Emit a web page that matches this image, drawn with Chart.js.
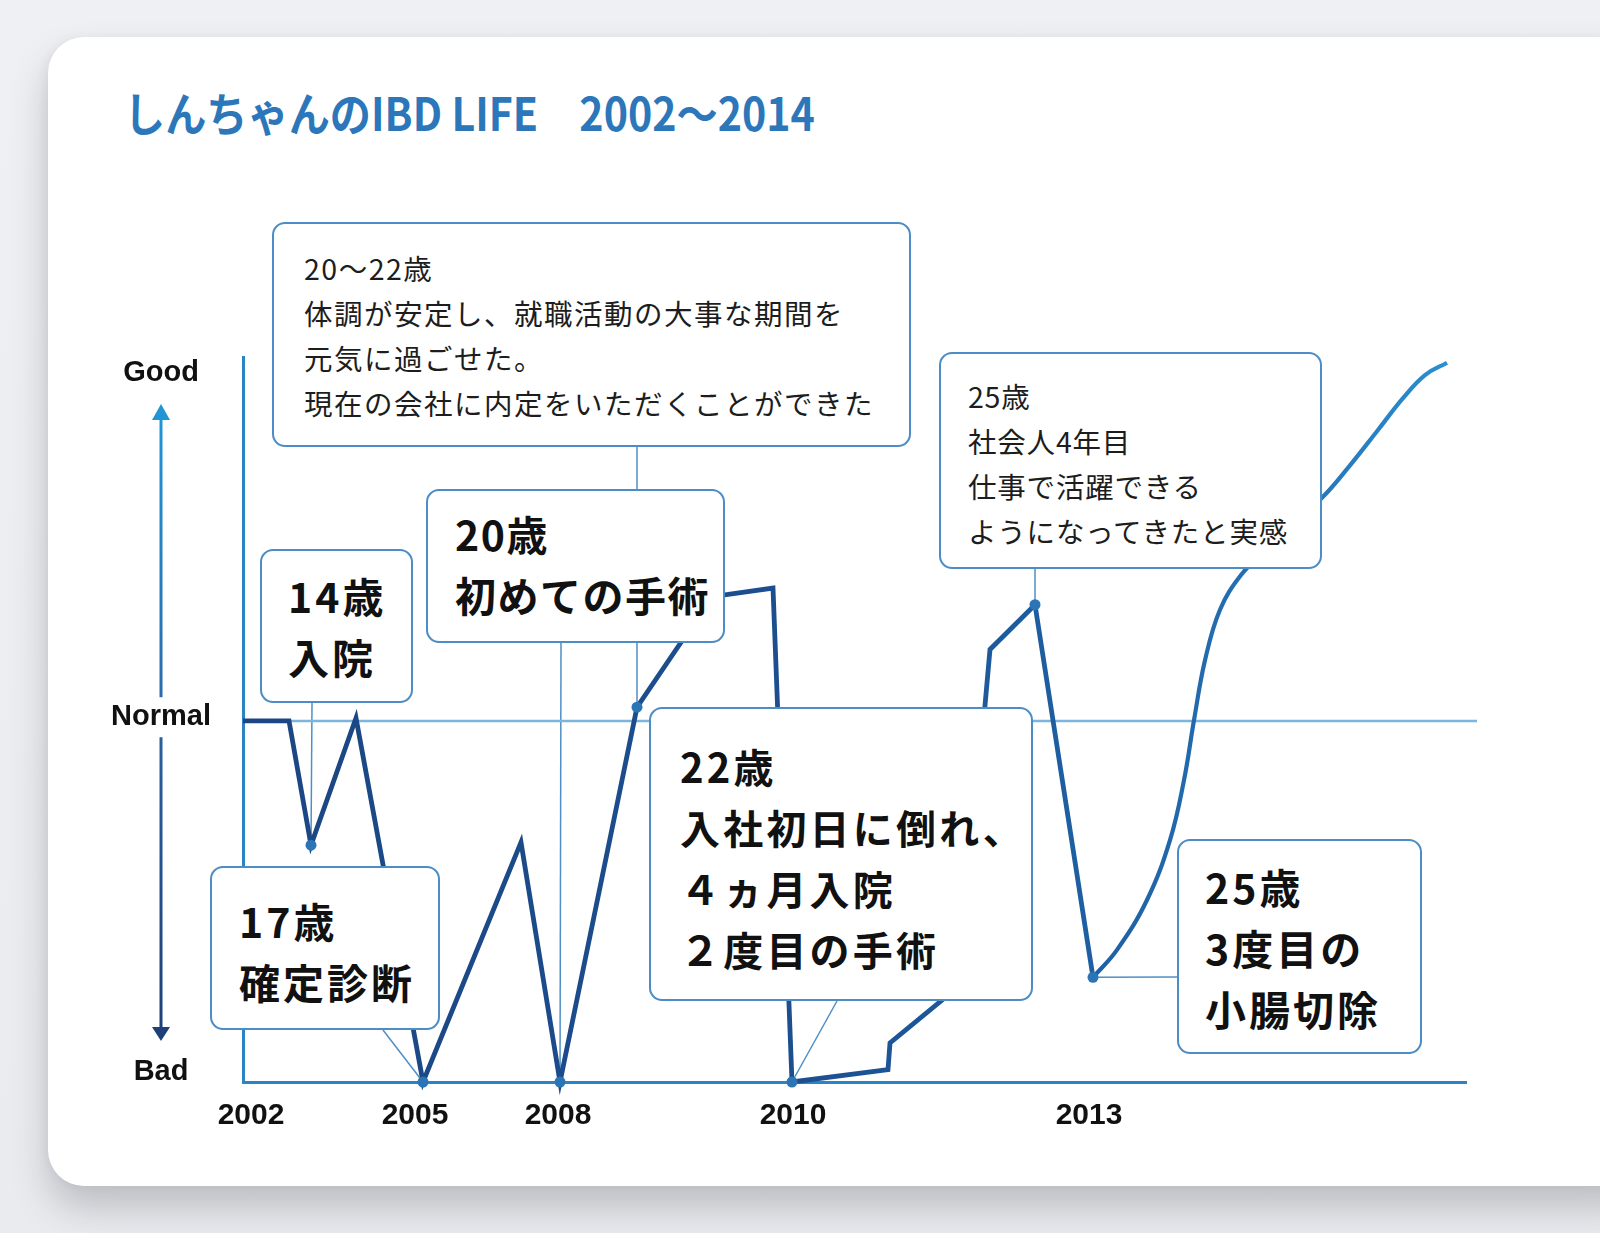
<!DOCTYPE html>
<html lang="ja">
<head>
<meta charset="utf-8">
<title>しんちゃんのIBD LIFE</title>
<script src="https://cdn.jsdelivr.net/npm/chart.js@4.4.0/dist/chart.umd.min.js"></script>
<style>
  html, body { margin: 0; padding: 0; }
  body {
    width: 1600px; height: 1233px; overflow: hidden; position: relative;
    background: linear-gradient(180deg, #eef0f3 0%, #e9ebef 100%);
    font-family: "Noto Sans CJK JP", "Noto Sans", sans-serif;
  }
  .card {
    position: absolute; left: 48px; top: 37px; width: 1600px; height: 1149px;
    background: #fff; border-radius: 36px;
    box-shadow: 0 22px 36px rgba(60, 64, 72, 0.26), -3px 0 10px rgba(0, 0, 0, 0.04);
  }
  .title {
    position: absolute; left: 124px; top: 88px; margin: 0;
    font-size: 46px; line-height: 1; font-weight: 700; color: #2b77ba;
    transform: scaleX(0.895); transform-origin: left top; white-space: pre;
  }
  #chart { position: absolute; left: 0; top: 0; }
  .box {
    position: absolute; box-sizing: border-box; background: #fff;
    border: 2px solid #4c8dc6; border-radius: 13px; color: #111;
    white-space: pre;
  }
  .bold { font-weight: 700; font-size: 41px; line-height: 61px; letter-spacing: 3px; }
  .thin { font-weight: 400; font-size: 28.5px; line-height: 45px; letter-spacing: 0.8px; color: #1d1d1d; }
</style>
</head>
<body>
<div class="card"></div>
<h1 class="title">しんちゃんのIBD LIFE　2002〜2014</h1>
<canvas id="chart" width="1600" height="1233"></canvas>

<!-- callout boxes -->
<div class="box thin" style="left:272px; top:222px; width:639px; height:225px; padding:21px 0 0 30px; letter-spacing:1.5px;">20〜22歳
体調が安定し、就職活動の大事な期間を
元気に過ごせた。
現在の会社に内定をいただくことができた</div>
<div class="box bold" style="left:260px; top:549px; width:153px; height:154px; padding:14px 0 0 26px;">14歳
入院</div>
<div class="box bold" style="left:210px; top:866px; width:230px; height:164px; padding:22px 0 0 27px;">17歳
確定診断</div>
<div class="box bold" style="left:426px; top:489px; width:299px; height:154px; padding:12px 0 0 27px; letter-spacing:1.5px;">20歳
初めての手術</div>
<div class="box bold" style="left:649px; top:707px; width:384px; height:294px; padding:27px 0 0 29px; font-size:40px; letter-spacing:3.2px;">22歳
入社初日に倒れ、
４ヵ月入院
２度目の手術</div>
<div class="box thin" style="left:939px; top:352px; width:383px; height:217px; padding:19px 0 0 27px;">25歳
社会人4年目
仕事で活躍できる
ようになってきたと実感</div>
<div class="box bold" style="left:1177px; top:839px; width:245px; height:215px; padding:15px 0 0 26px;">25歳
3度目の
小腸切除</div>

<script>
// x = position on the life timeline, y = condition (0 Bad, 50 Normal, 100 Good)
let pathX = [0, 4.6, 6.8, 11.3, 18.0, 27.8, 31.7, 39.4, 46.9, 53.0, 54.9, 64.5, 64.7, 71.7, 74.7, 79.2, 85.0];
let pathY = [50, 50, 32.8, 50.4, 0, 33.2, 0, 51.9, 67.2, 68.4, 0, 1.7, 5.4, 13.4, 59.9, 66.1, 14.5];
// recovery after the 3rd operation (smooth part)
let curveX = [85.0, 87.4, 90.4, 92.7, 94.1, 95.1, 96.2, 97.7, 99.8, 102.3, 107.9, 110.7, 113.5, 116.0, 118.2, 120.4];
let curveY = [14.5, 18.3, 25.2, 33.5, 41.8, 50.1, 58.4, 65.4, 70.2, 73.7, 80.9, 85.4, 90.3, 94.7, 97.9, 99.6];
// events marked with a dot
let eventIdx = [2, 4, 6, 7, 10, 15, 16];

let yearLabels = ['2002', '2005', '2008', '2010', '2013'];
let yearPos = [0.8, 17.2, 31.5, 55.0, 84.6];
let levelLabels = ['Bad', 'Normal', 'Good'];
let levelPos = [1.4, 50.5, 98.2];
let normalLevel = 50;

// box edge where each callout line starts, paired with eventIdx
let calloutFrom = [[312, 703], [383, 1030], [561, 643], [637, 447], [837, 1001], [1035, 569], [1178, 977]];

function toPoints(xs, ys) {
    let out = [];
    for (let i = 0; i < xs.length; i++) out.push({x: xs[i], y: ys[i]});
    return out;
}

function lineGradient(ctx) {
    let chart = ctx.chart;
    let a = chart.chartArea;
    if (!a) return '#1d4f8e';
    let g = chart.ctx.createLinearGradient(a.left, 0, a.right, 0);
    g.addColorStop(0, '#1b4683');
    g.addColorStop(0.45, '#1c4f90');
    g.addColorStop(0.7, '#1e60a3');
    g.addColorStop(0.88, '#2677bb');
    g.addColorStop(1, '#2b93d3');
    return g;
}

// callout lines + level arrows
let extras = {
    id: 'extras',
    beforeDatasetsDraw(chart) {
        let c = chart.ctx, xs = chart.scales.x, ys = chart.scales.y;
        c.save();
        c.strokeStyle = '#4f8fc6';
        c.lineWidth = 1.5;
        eventIdx.forEach((idx, i) => {
            let px = xs.getPixelForValue(pathX[idx]);
            let py = ys.getPixelForValue(pathY[idx]);
            c.beginPath();
            c.moveTo(calloutFrom[i][0], calloutFrom[i][1]);
            c.lineTo(px, py);
            c.stroke();
        });
        c.restore();
    },
    afterDraw(chart) {
        let c = chart.ctx, ys = chart.scales.y;
        let ax = 161;
        let good = ys.getPixelForValue(levelPos[2]);
        let normal = ys.getPixelForValue(levelPos[1]);
        let bad = ys.getPixelForValue(levelPos[0]);
        c.save();
        // up arrow
        let tipUp = good + 31, baseUp = tipUp + 16, endUp = normal - 20;
        let g1 = c.createLinearGradient(0, tipUp, 0, endUp);
        g1.addColorStop(0, '#2197d6');
        g1.addColorStop(1, '#2a6cab');
        c.strokeStyle = g1; c.fillStyle = g1; c.lineWidth = 3;
        c.beginPath(); c.moveTo(ax, baseUp - 1); c.lineTo(ax, endUp); c.stroke();
        c.beginPath(); c.moveTo(ax, tipUp); c.lineTo(ax - 9, baseUp); c.lineTo(ax + 9, baseUp); c.closePath(); c.fill();
        // down arrow
        let startDn = normal + 20, tipDn = bad - 31, baseDn = tipDn - 14;
        let g2 = c.createLinearGradient(0, startDn, 0, tipDn);
        g2.addColorStop(0, '#2a5f9e');
        g2.addColorStop(1, '#1d3f78');
        c.strokeStyle = g2; c.fillStyle = g2;
        c.beginPath(); c.moveTo(ax, startDn); c.lineTo(ax, baseDn + 1); c.stroke();
        c.beginPath(); c.moveTo(ax, tipDn); c.lineTo(ax - 9, baseDn); c.lineTo(ax + 9, baseDn); c.closePath(); c.fill();
        c.restore();
    }
};

let axisFont = {family: 'Liberation Sans', weight: 'bold', size: 30};
let hiddenGrid = {display: true, color: 'rgba(0,0,0,0)', drawTicks: false, drawOnChartArea: false};

let ctx = document.getElementById('chart').getContext('2d');
let graph = new Chart(ctx, {
    type: 'line',
    data: {
        datasets: [{
            label: 'life',
            data: toPoints(pathX, pathY),
            borderColor: lineGradient,
            borderWidth: 4.8,
            tension: 0,
            pointRadius: c => eventIdx.includes(c.dataIndex) ? 5.5 : 0,
            pointBackgroundColor: '#2b74b6',
            pointBorderWidth: 0,
            borderJoinStyle: 'miter',
            fill: false,
            clip: false,
            order: 1
        }, {
            label: 'recovery',
            data: toPoints(curveX, curveY),
            borderColor: lineGradient,
            borderWidth: 4.2,
            tension: 0.4,
            pointRadius: 0,
            fill: false,
            clip: false,
            order: 2
        }, {
            label: 'normal',
            data: [{x: 0, y: normalLevel}, {x: 123.4, y: normalLevel}],
            borderColor: '#7cb5de',
            borderWidth: 2.5,
            pointRadius: 0,
            fill: false,
            clip: false,
            order: 3
        }]
    },
    options: {
        responsive: false,
        animation: false,
        layout: {padding: {left: 100, top: 357, right: 134, bottom: 91}},
        plugins: {legend: {display: false}, tooltip: {enabled: false}},
        scales: {
            x: {
                type: 'linear', min: 0, max: 122.3,
                afterBuildTicks: s => { s.ticks = yearPos.map(v => ({value: v})); },
                afterFit: s => { s.height = 60; },
                grid: hiddenGrid,
                border: {display: true, color: '#2a84c6', width: 3},
                ticks: {
                    autoSkip: false, maxRotation: 0, padding: 16,
                    font: axisFont, color: '#111',
                    callback: (v, i) => yearLabels[i]
                }
            },
            y: {
                type: 'linear', min: 0, max: 100.4,
                afterBuildTicks: s => { s.ticks = levelPos.map(v => ({value: v})); },
                afterFit: s => { s.width = 143; },
                grid: hiddenGrid,
                border: {display: true, color: '#2a84c6', width: 3},
                ticks: {
                    crossAlign: 'center', padding: 32,
                    font: {family: 'Liberation Sans', weight: 'bold', size: 29}, color: '#111',
                    callback: (v, i) => levelLabels[i]
                }
            }
        }
    },
    plugins: [extras]
});
</script>
</body>
</html>
